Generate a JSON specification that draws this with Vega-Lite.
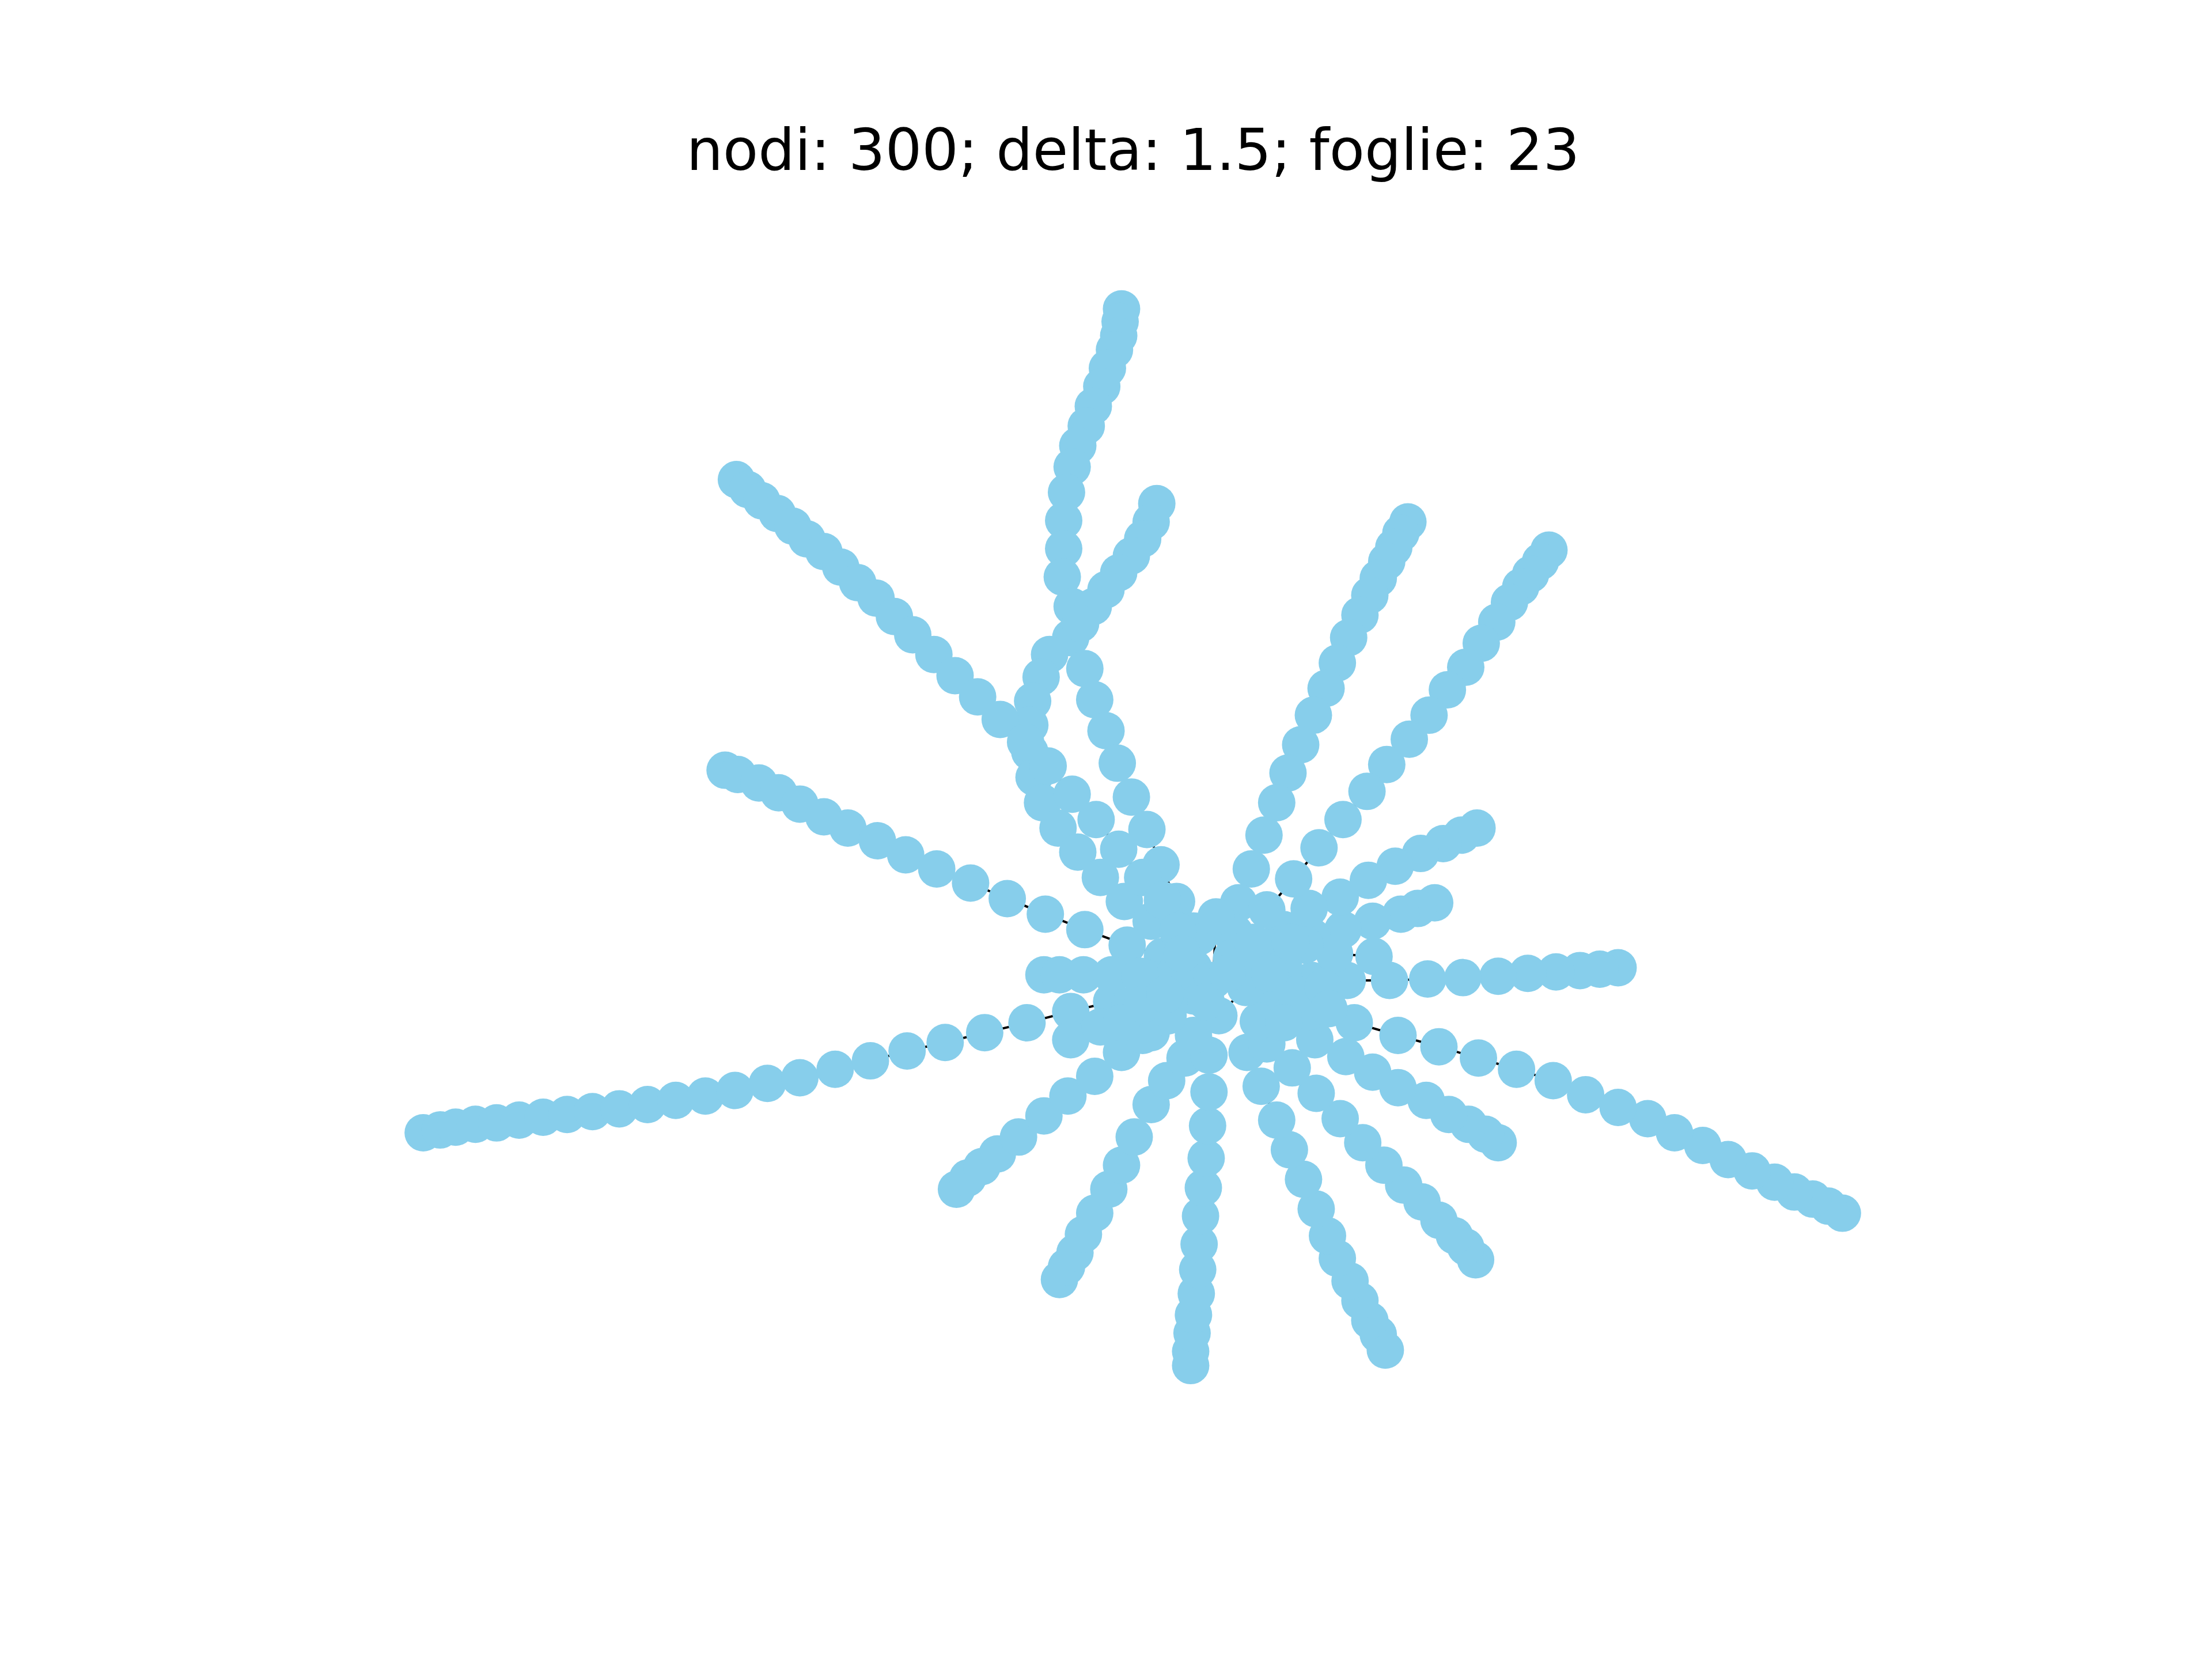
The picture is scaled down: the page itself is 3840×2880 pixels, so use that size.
{
"$schema": "https://vega.github.io/schema/vega-lite/v6.json",
"width": 3840, "height": 2534,
"autosize": "none",
"padding": {"top": 346, "left": 0, "right": 0, "bottom": 0},
"background": "white",
"config": {"view": {"stroke": null}},
"title": {"text": "nodi: 300; delta: 1.5; foglie: 23", "font": "DejaVu Sans", "fontSize": 100, "fontWeight": "normal", "color": "black", "anchor": "middle", "offset": 30, "dx": 47},
"data": {"values": [
{"b":"T1","i":1,"x":795,"y":219},{"b":"T1","i":2,"x":794,"y":228},{"b":"T1","i":3,"x":793,"y":238},{"b":"T1","i":4,"x":790,"y":248},{"b":"T1","i":5,"x":785,"y":261},{"b":"T1","i":6,"x":781,"y":274},{"b":"T1","i":7,"x":775,"y":288},{"b":"T1","i":8,"x":770,"y":302},{"b":"T1","i":9,"x":764,"y":316},{"b":"T1","i":10,"x":760,"y":331},{"b":"T1","i":11,"x":756,"y":349},{"b":"T1","i":12,"x":754,"y":369},{"b":"T1","i":13,"x":754,"y":389},{"b":"T1","i":14,"x":753,"y":409},{"b":"T1","i":15,"x":760,"y":430},{"b":"T1","i":16,"x":759,"y":452},{"b":"T1","i":17,"x":769,"y":474},{"b":"T1","i":18,"x":776,"y":496},{"b":"T1","i":19,"x":784,"y":518},{"b":"T1","i":20,"x":792,"y":541},{"b":"T1","i":21,"x":802,"y":565},{"b":"T1","i":22,"x":813,"y":588},{"b":"T1","i":23,"x":823,"y":613},{"b":"T1","i":24,"x":834,"y":639},{"b":"T1","i":25,"x":846,"y":660},
{"b":"T2","i":1,"x":820,"y":357},{"b":"T2","i":2,"x":816,"y":370},{"b":"T2","i":3,"x":810,"y":382},{"b":"T2","i":4,"x":802,"y":394},{"b":"T2","i":5,"x":793,"y":406},{"b":"T2","i":6,"x":784,"y":418},{"b":"T2","i":7,"x":775,"y":430},{"b":"T2","i":8,"x":766,"y":442},{"b":"T2","i":9,"x":744,"y":464},{"b":"T2","i":10,"x":738,"y":480},{"b":"T2","i":11,"x":732,"y":497},{"b":"T2","i":12,"x":730,"y":514},{"b":"T2","i":13,"x":730,"y":533},{"b":"T2","i":14,"x":733,"y":551},{"b":"T2","i":15,"x":739,"y":569},{"b":"T2","i":16,"x":750,"y":587},{"b":"T2","i":17,"x":764,"y":604},{"b":"T2","i":18,"x":780,"y":622},{"b":"T2","i":19,"x":797,"y":639},{"b":"T2","i":20,"x":816,"y":653},
{"b":"L1","i":1,"x":522,"y":340},{"b":"L1","i":2,"x":530,"y":347},{"b":"L1","i":3,"x":540,"y":355},{"b":"L1","i":4,"x":551,"y":364},{"b":"L1","i":5,"x":562,"y":373},{"b":"L1","i":6,"x":572,"y":382},{"b":"L1","i":7,"x":584,"y":391},{"b":"L1","i":8,"x":596,"y":402},{"b":"L1","i":9,"x":608,"y":413},{"b":"L1","i":10,"x":621,"y":424},{"b":"L1","i":11,"x":634,"y":437},{"b":"L1","i":12,"x":647,"y":450},{"b":"L1","i":13,"x":662,"y":464},{"b":"L1","i":14,"x":677,"y":479},{"b":"L1","i":15,"x":693,"y":494},{"b":"L1","i":16,"x":709,"y":510},{"b":"L1","i":17,"x":727,"y":526},{"b":"L1","i":18,"x":743,"y":543},{"b":"L1","i":19,"x":760,"y":563},{"b":"L1","i":20,"x":777,"y":581},{"b":"L1","i":21,"x":793,"y":602},{"b":"L1","i":22,"x":810,"y":622},{"b":"L1","i":23,"x":824,"y":638},
{"b":"L2","i":1,"x":514,"y":546},{"b":"L2","i":2,"x":523,"y":549},{"b":"L2","i":3,"x":538,"y":555},{"b":"L2","i":4,"x":552,"y":562},{"b":"L2","i":5,"x":567,"y":570},{"b":"L2","i":6,"x":584,"y":579},{"b":"L2","i":7,"x":601,"y":587},{"b":"L2","i":8,"x":622,"y":596},{"b":"L2","i":9,"x":642,"y":606},{"b":"L2","i":10,"x":664,"y":616},{"b":"L2","i":11,"x":688,"y":626},{"b":"L2","i":12,"x":714,"y":637},{"b":"L2","i":13,"x":741,"y":648},{"b":"L2","i":14,"x":769,"y":659},{"b":"L2","i":15,"x":799,"y":670},{"b":"L2","i":16,"x":824,"y":678},
{"b":"L3","i":1,"x":300,"y":803},{"b":"L3","i":2,"x":312,"y":801},{"b":"L3","i":3,"x":323,"y":799},{"b":"L3","i":4,"x":337,"y":797},{"b":"L3","i":5,"x":352,"y":796},{"b":"L3","i":6,"x":368,"y":794},{"b":"L3","i":7,"x":385,"y":792},{"b":"L3","i":8,"x":402,"y":790},{"b":"L3","i":9,"x":420,"y":788},{"b":"L3","i":10,"x":439,"y":786},{"b":"L3","i":11,"x":459,"y":783},{"b":"L3","i":12,"x":479,"y":780},{"b":"L3","i":13,"x":500,"y":777},{"b":"L3","i":14,"x":521,"y":773},{"b":"L3","i":15,"x":544,"y":768},{"b":"L3","i":16,"x":567,"y":764},{"b":"L3","i":17,"x":592,"y":758},{"b":"L3","i":18,"x":617,"y":752},{"b":"L3","i":19,"x":643,"y":745},{"b":"L3","i":20,"x":670,"y":739},{"b":"L3","i":21,"x":698,"y":732},{"b":"L3","i":22,"x":728,"y":725},{"b":"L3","i":23,"x":759,"y":717},{"b":"L3","i":24,"x":788,"y":710},{"b":"L3","i":25,"x":815,"y":702},
{"b":"L4","i":1,"x":740,"y":691},{"b":"L4","i":2,"x":751,"y":691},{"b":"L4","i":3,"x":768,"y":691},{"b":"L4","i":4,"x":788,"y":691},{"b":"L4","i":5,"x":812,"y":693},
{"b":"BL1","i":1,"x":678,"y":843},{"b":"BL1","i":2,"x":686,"y":835},{"b":"BL1","i":3,"x":696,"y":827},{"b":"BL1","i":4,"x":707,"y":818},{"b":"BL1","i":5,"x":722,"y":806},{"b":"BL1","i":6,"x":740,"y":791},{"b":"BL1","i":7,"x":757,"y":777},{"b":"BL1","i":8,"x":776,"y":763},{"b":"BL1","i":9,"x":795,"y":746},{"b":"BL1","i":10,"x":816,"y":732},
{"b":"BL2","i":1,"x":751,"y":907},{"b":"BL2","i":2,"x":756,"y":898},{"b":"BL2","i":3,"x":762,"y":888},{"b":"BL2","i":4,"x":768,"y":875},{"b":"BL2","i":5,"x":776,"y":860},{"b":"BL2","i":6,"x":786,"y":843},{"b":"BL2","i":7,"x":795,"y":826},{"b":"BL2","i":8,"x":804,"y":806},{"b":"BL2","i":9,"x":816,"y":783},{"b":"BL2","i":10,"x":827,"y":766},{"b":"BL2","i":11,"x":840,"y":750},
{"b":"B","i":1,"x":844,"y":968},{"b":"B","i":2,"x":844,"y":958},{"b":"B","i":3,"x":845,"y":945},{"b":"B","i":4,"x":846,"y":932},{"b":"B","i":5,"x":848,"y":917},{"b":"B","i":6,"x":849,"y":900},{"b":"B","i":7,"x":850,"y":882},{"b":"B","i":8,"x":851,"y":862},{"b":"B","i":9,"x":853,"y":842},{"b":"B","i":10,"x":855,"y":821},{"b":"B","i":11,"x":856,"y":798},{"b":"B","i":12,"x":857,"y":774},{"b":"B","i":13,"x":857,"y":748},
{"b":"BR1","i":1,"x":982,"y":957},{"b":"BR1","i":2,"x":977,"y":946},{"b":"BR1","i":3,"x":971,"y":936},{"b":"BR1","i":4,"x":964,"y":922},{"b":"BR1","i":5,"x":957,"y":908},{"b":"BR1","i":6,"x":948,"y":892},{"b":"BR1","i":7,"x":941,"y":876},{"b":"BR1","i":8,"x":933,"y":857},{"b":"BR1","i":9,"x":924,"y":836},{"b":"BR1","i":10,"x":914,"y":815},{"b":"BR1","i":11,"x":905,"y":794},{"b":"BR1","i":12,"x":894,"y":770},{"b":"BR1","i":13,"x":884,"y":746},
{"b":"BR2","i":1,"x":1046,"y":893},{"b":"BR2","i":2,"x":1039,"y":884},{"b":"BR2","i":3,"x":1031,"y":876},{"b":"BR2","i":4,"x":1020,"y":865},{"b":"BR2","i":5,"x":1008,"y":852},{"b":"BR2","i":6,"x":995,"y":840},{"b":"BR2","i":7,"x":981,"y":826},{"b":"BR2","i":8,"x":966,"y":810},{"b":"BR2","i":9,"x":950,"y":793},{"b":"BR2","i":10,"x":933,"y":775},{"b":"BR2","i":11,"x":916,"y":757},{"b":"BR2","i":12,"x":898,"y":740},
{"b":"BR3","i":1,"x":1062,"y":810},{"b":"BR3","i":2,"x":1053,"y":804},{"b":"BR3","i":3,"x":1041,"y":797},{"b":"BR3","i":4,"x":1027,"y":790},{"b":"BR3","i":5,"x":1011,"y":780},{"b":"BR3","i":6,"x":991,"y":771},{"b":"BR3","i":7,"x":973,"y":760},{"b":"BR3","i":8,"x":954,"y":749},{"b":"BR3","i":9,"x":932,"y":737},
{"b":"R1","i":1,"x":1306,"y":860},{"b":"R1","i":2,"x":1296,"y":855},{"b":"R1","i":3,"x":1285,"y":850},{"b":"R1","i":4,"x":1272,"y":845},{"b":"R1","i":5,"x":1258,"y":838},{"b":"R1","i":6,"x":1242,"y":830},{"b":"R1","i":7,"x":1225,"y":822},{"b":"R1","i":8,"x":1207,"y":812},{"b":"R1","i":9,"x":1187,"y":803},{"b":"R1","i":10,"x":1168,"y":793},{"b":"R1","i":11,"x":1147,"y":785},{"b":"R1","i":12,"x":1124,"y":776},{"b":"R1","i":13,"x":1101,"y":766},{"b":"R1","i":14,"x":1075,"y":758},{"b":"R1","i":15,"x":1048,"y":750},{"b":"R1","i":16,"x":1020,"y":742},{"b":"R1","i":17,"x":991,"y":734},{"b":"R1","i":18,"x":960,"y":725},{"b":"R1","i":19,"x":928,"y":717},{"b":"R1","i":20,"x":901,"y":708},
{"b":"R2","i":1,"x":1147,"y":686},{"b":"R2","i":2,"x":1134,"y":687},{"b":"R2","i":3,"x":1120,"y":688},{"b":"R2","i":4,"x":1103,"y":689},{"b":"R2","i":5,"x":1083,"y":690},{"b":"R2","i":6,"x":1062,"y":692},{"b":"R2","i":7,"x":1037,"y":693},{"b":"R2","i":8,"x":1012,"y":694},{"b":"R2","i":9,"x":985,"y":695},{"b":"R2","i":10,"x":955,"y":695},{"b":"R2","i":11,"x":930,"y":695},
{"b":"R3","i":1,"x":1017,"y":640},{"b":"R3","i":2,"x":1005,"y":644},{"b":"R3","i":3,"x":993,"y":648},{"b":"R3","i":4,"x":973,"y":653},{"b":"R3","i":5,"x":952,"y":659},{"b":"R3","i":6,"x":930,"y":664},
{"b":"R4","i":1,"x":1047,"y":587},{"b":"R4","i":2,"x":1036,"y":592},{"b":"R4","i":3,"x":1023,"y":598},{"b":"R4","i":4,"x":1007,"y":605},{"b":"R4","i":5,"x":989,"y":614},{"b":"R4","i":6,"x":970,"y":624},{"b":"R4","i":7,"x":950,"y":636},{"b":"R4","i":8,"x":928,"y":644},{"b":"R4","i":9,"x":910,"y":659},
{"b":"UR1","i":1,"x":998,"y":370},{"b":"UR1","i":2,"x":993,"y":378},{"b":"UR1","i":3,"x":988,"y":388},{"b":"UR1","i":4,"x":983,"y":398},{"b":"UR1","i":5,"x":977,"y":410},{"b":"UR1","i":6,"x":971,"y":422},{"b":"UR1","i":7,"x":964,"y":436},{"b":"UR1","i":8,"x":956,"y":452},{"b":"UR1","i":9,"x":948,"y":470},{"b":"UR1","i":10,"x":940,"y":488},{"b":"UR1","i":11,"x":931,"y":507},{"b":"UR1","i":12,"x":922,"y":528},{"b":"UR1","i":13,"x":913,"y":548},{"b":"UR1","i":14,"x":905,"y":569},{"b":"UR1","i":15,"x":896,"y":592},{"b":"UR1","i":16,"x":887,"y":616},{"b":"UR1","i":17,"x":878,"y":640},{"b":"UR1","i":18,"x":873,"y":662},
{"b":"UR2","i":1,"x":1098,"y":390},{"b":"UR2","i":2,"x":1092,"y":398},{"b":"UR2","i":3,"x":1085,"y":407},{"b":"UR2","i":4,"x":1078,"y":416},{"b":"UR2","i":5,"x":1070,"y":427},{"b":"UR2","i":6,"x":1061,"y":441},{"b":"UR2","i":7,"x":1050,"y":456},{"b":"UR2","i":8,"x":1039,"y":473},{"b":"UR2","i":9,"x":1026,"y":489},{"b":"UR2","i":10,"x":1013,"y":507},{"b":"UR2","i":11,"x":999,"y":524},{"b":"UR2","i":12,"x":983,"y":542},{"b":"UR2","i":13,"x":969,"y":561},{"b":"UR2","i":14,"x":952,"y":581},{"b":"UR2","i":15,"x":935,"y":601},{"b":"UR2","i":16,"x":917,"y":623},{"b":"UR2","i":17,"x":898,"y":645},{"b":"UR2","i":18,"x":880,"y":668},
{"b":"C1","i":1,"x":759,"y":737},{"b":"C1","i":2,"x":780,"y":728},{"b":"C1","i":3,"x":801,"y":713},
{"b":"C2","i":1,"x":974,"y":678},{"b":"C2","i":2,"x":946,"y":676},{"b":"C2","i":3,"x":925,"y":670},{"b":"C2","i":4,"x":901,"y":672},
{"b":"C3","i":1,"x":846,"y":734},{"b":"C3","i":2,"x":828,"y":720},{"b":"C3","i":3,"x":819,"y":700},
{"b":"C4","i":1,"x":892,"y":724},{"b":"C4","i":2,"x":883,"y":700},{"b":"C4","i":3,"x":864,"y":720},
{"b":"C5","i":1,"x":850,"y":664},{"b":"C5","i":2,"x":846,"y":686},{"b":"C5","i":3,"x":846,"y":706},
{"b":"C6","i":1,"x":875,"y":661},{"b":"C6","i":2,"x":873,"y":679},{"b":"C6","i":3,"x":910,"y":686},{"b":"C6","i":4,"x":919,"y":705},
{"b":"C7","i":1,"x":810,"y":734},{"b":"C7","i":2,"x":795,"y":725},
{"b":"C8","i":1,"x":835,"y":660},{"b":"C8","i":2,"x":862,"y":650},{"b":"C8","i":3,"x":860,"y":695},{"b":"C8","i":4,"x":833,"y":690},{"b":"C8","i":5,"x":895,"y":688},
{"b":"C9","i":1,"x":808,"y":692},{"b":"C9","i":2,"x":810,"y":712},{"b":"C9","i":3,"x":826,"y":705},{"b":"C9","i":4,"x":838,"y":676},{"b":"C9","i":5,"x":855,"y":710},{"b":"C9","i":6,"x":870,"y":690},
{"b":"C10","i":1,"x":888,"y":668},{"b":"C10","i":2,"x":900,"y":690},{"b":"C10","i":3,"x":915,"y":668},{"b":"C10","i":4,"x":938,"y":700},{"b":"C10","i":5,"x":942,"y":715},{"b":"C10","i":6,"x":910,"y":725}
]},
"encoding": {
"x": {"field": "x", "type": "quantitative", "axis": null, "scale": {"domain": [0, 1568], "nice": false, "zero": false}},
"y": {"field": "y", "type": "quantitative", "axis": null, "scale": {"domain": [141.3, 1176], "nice": false, "zero": false, "reverse": true}}
},
"layer": [
{"mark": {"type": "line", "color": "black", "strokeWidth": 4, "clip": false},
 "encoding": {"detail": {"field": "b"}, "order": {"field": "i", "type": "quantitative"}}},
{"mark": {"type": "point", "shape": "circle", "filled": true, "color": "#87CEEB", "opacity": 1, "size": 4225, "strokeWidth": 0}}
]
}
